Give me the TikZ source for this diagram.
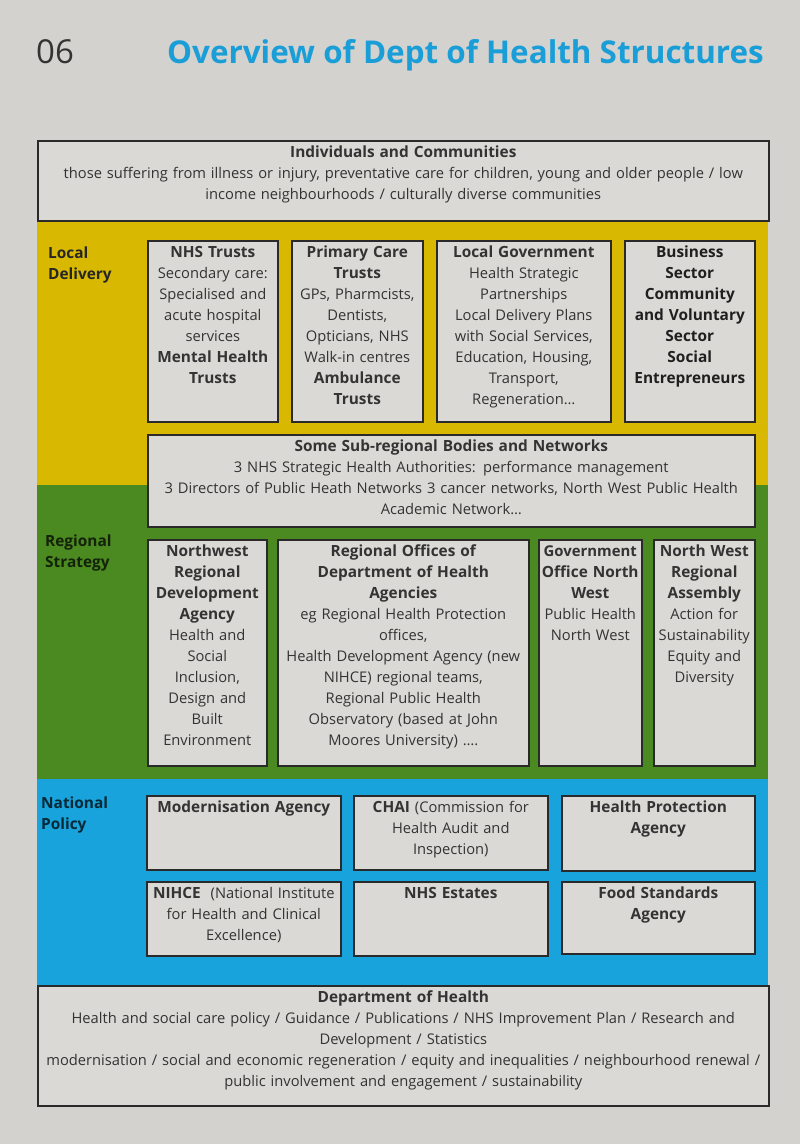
\documentclass[tikz,border=0pt]{standalone}
\usepackage{fontspec}
\setmainfont{Open Sans}
\usepackage{xcolor}
\usepackage{tikz}

\definecolor{pagebg}{HTML}{D3D2CE}
\definecolor{boxbg}{HTML}{DAD9D5}
\definecolor{boxline}{HTML}{2A2A2A}
\definecolor{inktext}{HTML}{333333}
\definecolor{localy}{HTML}{D8B800}
\definecolor{regiong}{HTML}{4A8A20}
\definecolor{nationb}{HTML}{19A3DC}
\definecolor{titleb}{HTML}{1A9ED8}
\newcommand\boxfont{\fontsize{14.7}{21}\selectfont}
\newcommand\hd[1]{{\fontsize{15.4}{21}\selectfont\bfseries#1}}

\begin{document}
\begin{tikzpicture}[x=1pt,y=-1pt,
  frame/.style={draw=boxline,fill=boxbg,line width=1.6pt,anchor=north west,inner sep=0pt},
  words/.style={anchor=north,yshift=-2.8pt,inner sep=0pt,align=center,text=inktext,font=\boxfont},
  tier/.style={anchor=north west,inner sep=0pt,align=left,font=\boxfont}]
\useasboundingbox (0,0) rectangle (800,1144);
% page and coloured bands
\fill[pagebg] (0,0) rectangle (800,1144);
\fill[localy] (37,220) rectangle (768,485);
\fill[regiong] (37,485) rectangle (768,779);
\fill[nationb] (37,779) rectangle (768,985);
% heading
\node[anchor=base west,inner sep=0pt,text=black!80,font=\fontsize{33}{35}\selectfont] (num) at (36,63) {06};
\node[anchor=base west,inner sep=0pt,text=titleb,font=\fontsize{31.4}{34}\selectfont\bfseries] (title) at (167,63) {Overview of Dept of Health Structures};
% individuals and communities
\node[frame,minimum width=731pt,minimum height=80pt] (ind) at (37,140) {};
\node[words,text width=725pt] (ind-t) at (ind.north) {\strut\hd{Individuals and Communities}\\
  those suffering from illness or injury, preventative care for children, young and older people / low\\
  income neighbourhoods / culturally diverse communities};
% local delivery
\node[tier,text=black!85] (local) at (48,243.3) {\strut\hd{Local}\\\hd{Delivery}};
\node[frame,minimum width=130pt,minimum height=181pt] (nhs) at (147,240) {};
\node[words,text width=126pt] (nhs-t) at (nhs.north) {\strut\hd{NHS Trusts}\\Secondary care:\\Specialised and\\acute hospital\\services\\
  \hd{Mental Health}\\\hd{Trusts}};
\node[frame,minimum width=131pt,minimum height=181pt] (pct) at (291,240) {};
\node[words,text width=127pt] (pct-t) at (pct.north) {\strut\hd{Primary Care}\\\hd{Trusts}\\GPs, Pharmcists,\\Dentists,\\Opticians, NHS\\
  Walk-in centres\\\hd{Ambulance}\\\hd{Trusts}};
\node[frame,minimum width=174pt,minimum height=181pt] (lgov) at (436,240) {};
\node[words,text width=170pt] (lgov-t) at (lgov.north) {\strut\hd{Local Government}\\Health Strategic\\Partnerships\\Local Delivery Plans\\
  with Social Services,\\Education, Housing,\\Transport,\\Regeneration…};
\node[frame,minimum width=130pt,minimum height=181pt] (bus) at (624,240) {};
\node[words,text width=126pt,text=black!88] (bus-t) at (bus.north) {\strut\hd{Business}\\\hd{Sector}\\\hd{Community}\\\hd{and Voluntary}\\\hd{Sector}\\\hd{Social}\\\hd{Entrepreneurs}};
\node[frame,minimum width=607pt,minimum height=92pt] (subreg) at (147,434) {};
\node[words,text width=600pt] (subreg-t) at (subreg.north) {\strut\hd{Some Sub-regional Bodies and Networks}\\
  3 NHS Strategic Health Authorities: performance management\\
  3 Directors of Public Heath Networks 3 cancer networks, North West Public Health\\
  Academic Network…};
% regional strategy
\node[tier,text=black!75!regiong] (region) at (45,531.3) {\strut\hd{Regional}\\\hd{Strategy}};
\node[frame,minimum width=119pt,minimum height=226pt] (nwrda) at (147,539) {};
\node[words,text width=115pt] (nwrda-t) at (nwrda.north) {\strut\hd{Northwest}\\\hd{Regional}\\\hd{Development}\\\hd{Agency}\\
  Health and\\Social\\Inclusion,\\Design and\\Built\\Environment};
\node[frame,minimum width=251pt,minimum height=226pt] (rodh) at (277,539) {};
\node[words,text width=247pt] (rodh-t) at (rodh.north) {\strut\hd{Regional Offices of}\\\hd{Department of Health}\\\hd{Agencies}\\
  eg Regional Health Protection\\offices,\\Health Development Agency (new\\NIHCE) regional teams,\\Regional Public Health\\
  Observatory (based at John\\Moores University) ….};
\node[frame,minimum width=103pt,minimum height=226pt] (gonw) at (538,539) {};
\node[words,text width=101pt] (gonw-t) at (gonw.north) {\strut{\fontsize{14.9}{21}\selectfont\bfseries Government}\\\hd{Office North}\\\hd{West}\\Public Health\\North West};
\node[frame,minimum width=101pt,minimum height=226pt] (nwra) at (653,539) {};
\node[words,text width=99pt] (nwra-t) at (nwra.north) {\strut\hd{North West}\\\hd{Regional}\\\hd{Assembly}\\Action for\\Sustainability\\Equity and\\Diversity};
% national policy
\node[tier,text=black!75!nationb] (nation) at (41,793.3) {\strut\hd{National}\\\hd{Policy}};
\node[frame,minimum width=194pt,minimum height=74pt] (modag) at (146,795) {};
\node[words,text width=190pt] (modag-t) at (modag.north) {\strut\hd{Modernisation Agency}};
\node[frame,minimum width=194pt,minimum height=74pt] (chai) at (353,795) {};
\node[words,text width=190pt] (chai-t) at (chai.north) {\strut\hd{CHAI} (Commission for\\Health Audit and\\Inspection)};
\node[frame,minimum width=193pt,minimum height=75pt] (hpa) at (561,795) {};
\node[words,text width=189pt] (hpa-t) at (hpa.north) {\strut\hd{Health Protection}\\\hd{Agency}};
\node[frame,minimum width=194pt,minimum height=74pt] (nihce) at (146,881) {};
\node[words,text width=190pt] (nihce-t) at (nihce.north) {\strut\hd{NIHCE}\ \ (National Institute\\for Health and Clinical\\Excellence)};
\node[frame,minimum width=194pt,minimum height=74pt] (estates) at (353,881) {};
\node[words,text width=190pt] (estates-t) at (estates.north) {\strut\hd{NHS Estates}};
\node[frame,minimum width=193pt,minimum height=72pt] (fsa) at (561,881) {};
\node[words,text width=189pt] (fsa-t) at (fsa.north) {\strut\hd{Food Standards}\\\hd{Agency}};
% department of health
\node[frame,minimum width=731pt,minimum height=120pt] (doh) at (37,985) {};
\node[words,text width=725pt] (doh-t) at (doh.north) {\strut\hd{Department of Health}\\
  Health and social care policy / Guidance / Publications / NHS Improvement Plan / Research and\\
  Development / Statistics\\
  modernisation / social and economic regeneration / equity and inequalities / neighbourhood renewal /\\
  public involvement and engagement / sustainability};
\end{tikzpicture}
\end{document}
